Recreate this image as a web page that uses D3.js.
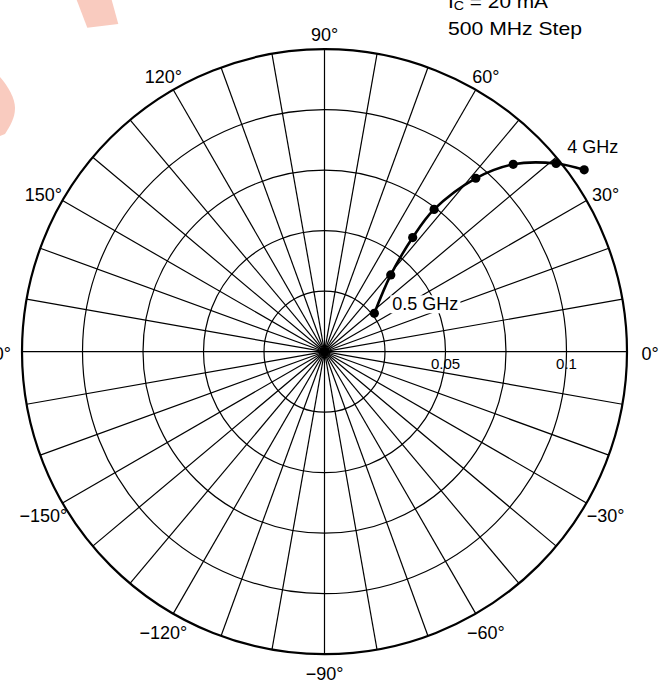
<!DOCTYPE html>
<html>
<head>
<meta charset="utf-8">
<script src="https://cdn.jsdelivr.net/npm/d3@7"></script>
<style>
  html, body { margin: 0; padding: 0; background: #fff; }
  svg { display: block; font-family: "Liberation Sans", Arial, Helvetica, sans-serif; }
</style>
</head>
<body>
<svg id="chart" width="671" height="683"></svg>
<script>
// ---- data ----
const freqsGHz = [0.5, 1.0, 1.5, 2.0, 2.5, 3.0, 3.5, 4.0];
const magnitude = [0.0260, 0.0419, 0.0596, 0.0742, 0.0951, 0.1099, 0.1233, 0.1310];
const angleDeg = [37.6, 49.2, 52.3, 52.4, 48.9, 44.8, 39.1, 35.0];
const ringValues = [0.025, 0.05, 0.075, 0.1, 0.125];
const ringLabels = [0.05, 0.1];
const ringLabelText = ["0.05", "0.1"];
const spokeAngles = d3.range(0, 360, 10);
const angleLabelValues = [0, 30, 60, 90, 120, 150, 180, -150, -120, -90, -60, -30];
const angleLabelText = ["0°", "30°", "60°", "90°", "120°", "150°", "180°", "\u2212150°", "\u2212120°", "\u221290°", "\u221260°", "\u221230°"];
const titleLines = ["500 MHz Step"];
const firstPointLabel = "0.5 GHz";
const lastPointLabel = "4 GHz";

// ---- layout ----
const svg = d3.select("#chart");
const cx = 324.5, cy = 351.7, R = 302.5;
const r = d3.scaleLinear().domain([0, 0.125]).range([0, R]);
const toXY = (mag, deg) => {
  const a = deg * Math.PI / 180;
  return [cx + r(mag) * Math.cos(a), cy - r(mag) * Math.sin(a)];
};

// watermark-like pink shapes (decoration in reference)
svg.append("path")
  .attr("d", "M76.7,0 L111.7,0 L118.3,24 L87.3,27.7 Z")
  .attr("fill", "#f9cbbf");
svg.append("path")
  .attr("d", "M0,77 C8,86 15,98 15,108 C15,118 10,126 5,134 L0,136 Z")
  .attr("fill", "#f9cbbf");

const g = svg.append("g");

// spokes
g.selectAll("line.spoke").data(spokeAngles).enter().append("line")
  .attr("class", "spoke")
  .attr("x1", cx).attr("y1", cy)
  .attr("x2", d => toXY(0.125, d)[0])
  .attr("y2", d => toXY(0.125, d)[1])
  .attr("stroke", "#000").attr("stroke-width", 1.2);

// rings
g.selectAll("circle.ring").data(ringValues).enter().append("circle")
  .attr("class", "ring")
  .attr("cx", cx).attr("cy", cy)
  .attr("r", d => r(d))
  .attr("fill", "none")
  .attr("stroke", "#000")
  .attr("stroke-width", (d, i) => i === ringValues.length - 1 ? 2.2 : 1.2);

// center dot
g.append("circle").attr("cx", cx).attr("cy", cy).attr("r", 4.5).attr("fill", "#000");

// ring value labels
g.selectAll("text.rl").data(ringLabels).enter().append("text")
  .attr("class", "rl")
  .attr("x", d => cx + r(d))
  .attr("y", cy + 17)
  .attr("text-anchor", "middle")
  .attr("font-size", 15)
  .text((d, i) => ringLabelText[i]);

// angle labels
const labelPos = d => {
  const a = d * Math.PI / 180;
  const off = 17 + 6 * Math.abs(Math.cos(a));
  const shift = 2 + (Math.sin(a) > 0.01 ? 4 * Math.abs(Math.cos(a)) : 0);
  return [cx + (R + off) * Math.cos(a), cy - (R + off) * Math.sin(a) + shift];
};
g.selectAll("text.al").data(angleLabelValues).enter().append("text")
  .attr("class", "al")
  .attr("x", d => labelPos(d)[0])
  .attr("y", d => labelPos(d)[1])
  .attr("dy", "0.35em")
  .attr("text-anchor", d => d === 180 ? "end" : "middle")
  .attr("dx", d => d === 180 ? 12 : 0)
  .attr("font-size", 18)
  .text((d, i) => angleLabelText[i]);

// data curve
const pts = freqsGHz.map((f, i) => toXY(magnitude[i], angleDeg[i]));
g.append("path")
  .attr("d", d3.line().curve(d3.curveCatmullRom.alpha(0.5))(pts))
  .attr("fill", "none")
  .attr("stroke", "#000")
  .attr("stroke-width", 2.6);
g.selectAll("circle.pt").data(pts).enter().append("circle")
  .attr("class", "pt")
  .attr("cx", d => d[0]).attr("cy", d => d[1])
  .attr("r", 4.6).attr("fill", "#000");

// point labels
const p0 = pts[0], pN = pts[pts.length - 1];
const lbl0 = g.append("text")
  .attr("x", p0[0] + 18).attr("y", p0[1] - 3)
  .attr("font-size", 18)
  .text(firstPointLabel);
const bb = lbl0.node().getBBox();
g.insert("rect", () => lbl0.node())
  .attr("x", bb.x - 2).attr("y", bb.y + 1)
  .attr("width", bb.width + 4).attr("height", bb.height - 2)
  .attr("fill", "#fff");
g.append("text")
  .attr("x", pN[0] + 8.5).attr("y", pN[1] - 17)
  .attr("text-anchor", "middle")
  .attr("font-size", 18)
  .text(lastPointLabel);

// title block
const t1 = svg.append("text").attr("x", 448).attr("y", 8).attr("font-size", 19)
  .attr("textLength", 100).attr("lengthAdjust", "spacingAndGlyphs");
t1.append("tspan").text("I");
t1.append("tspan").attr("font-size", 13).attr("dy", 2).text("C");
t1.append("tspan").attr("dy", -2).text(" = 20 mA");
svg.selectAll("text.title").data(titleLines).enter().append("text")
  .attr("class", "title")
  .attr("x", 448).attr("y", (d, i) => 35 + i * 27)
  .attr("font-size", 19)
  .attr("textLength", 134).attr("lengthAdjust", "spacingAndGlyphs")
  .text(d => d);
</script>
</body>
</html>
